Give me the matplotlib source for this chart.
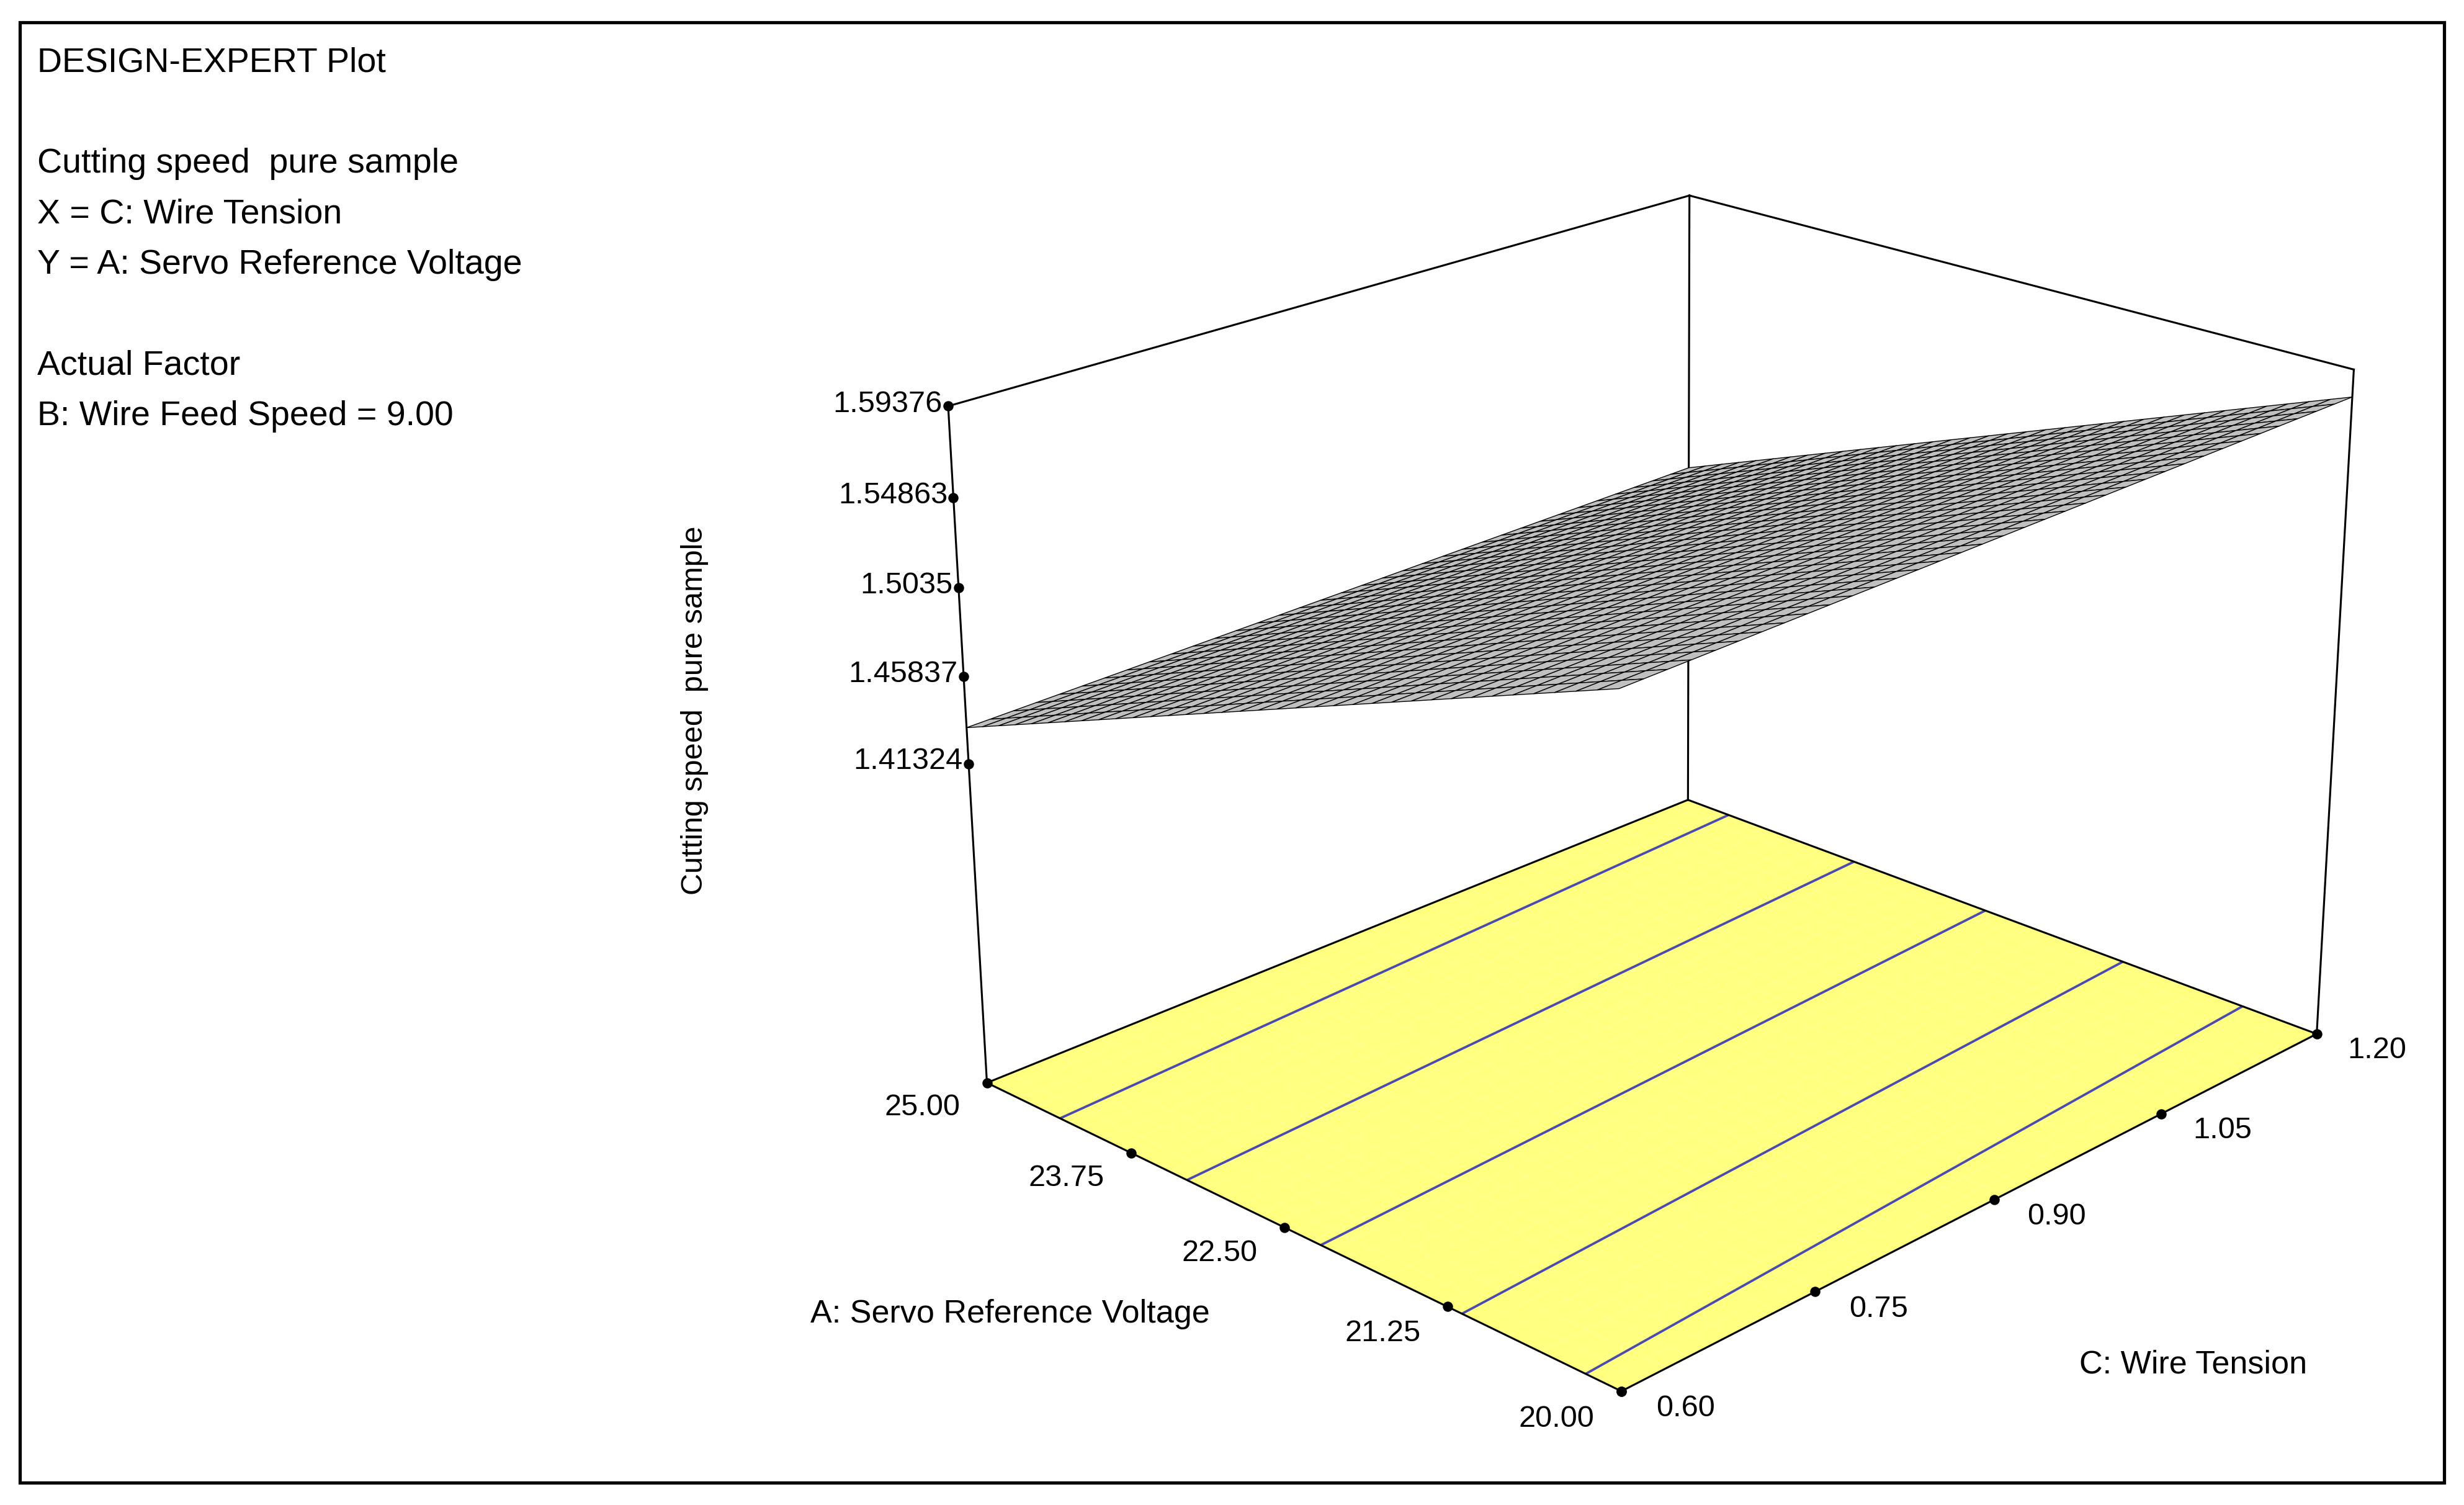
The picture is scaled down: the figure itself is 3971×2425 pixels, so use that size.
import numpy as np
import matplotlib.pyplot as plt
from matplotlib.patches import Rectangle

plt.rcParams['font.family'] = ['Liberation Sans', 'DejaVu Sans']

# factors and response
a_ticks = [20.00, 21.25, 22.50, 23.75, 25.00]   # A: Servo Reference Voltage
c_ticks = [0.60, 0.75, 0.90, 1.05, 1.20]        # C: Wire Tension
z_ticks = [1.41324, 1.45837, 1.5035, 1.54863, 1.59376]
z_floor = 1.243
# response
z_a20_c06, z_a25_c06 = 1.572, 1.432
z_c_gain = 0.008
contour_levels = [1.45, 1.48, 1.51, 1.54, 1.565]

A = np.linspace(20, 25, 36)
C = np.linspace(0.6, 1.2, 36)
CC, AA = np.meshgrid(C, A)
Z = z_a20_c06 + (AA - 20) / 5 * (z_a25_c06 - z_a20_c06) + (CC - 0.6) / 0.6 * z_c_gain

fig = plt.figure(figsize=(15.884, 9.7), dpi=250)
fig.add_artist(Rectangle((0.008, 0.015), 0.984, 0.97, transform=fig.transFigure,
                         fill=False, lw=1.5, color='black'))
ax = fig.add_axes([0.265, 0.0, 0.8, 1.0], projection='3d')
ax.computed_zorder = False
ax.set_proj_type('persp', focal_length=0.6)
ax.view_init(elev=22, azim=-136)
ax.set_axis_off()
ax.set_xlim(0.6, 1.2)
ax.set_ylim(20, 25)
ax.set_zlim(z_floor, z_ticks[-1])
ax.set_box_aspect((1.2, 1.05, 0.84))

lc = 'black'
lw = 0.9
x0, x1, y0, y1, zt = 0.6, 1.2, 20, 25, z_ticks[-1]
# floor
ax.plot_surface(CC, AA, np.full_like(Z, z_floor), color='#ffff80', shade=False,
                linewidth=0, zorder=0)
ax.contour(CC, AA, Z, levels=contour_levels, zdir='z', offset=z_floor,
           colors='#4a4ab0', linewidths=1.1, zorder=1)
for xs, ys in [((x0, x1), (y0, y0)), ((x1, x1), (y0, y1)), ((x1, x0), (y1, y1)), ((x0, x0), (y1, y0))]:
    ax.plot(xs, ys, [z_floor, z_floor], color=lc, lw=lw, zorder=2)
# verticals and top edges
for xx, yy in [(x0, y1), (x1, y1), (x1, y0)]:
    ax.plot([xx, xx], [yy, yy], [z_floor, zt], color=lc, lw=lw, zorder=2)
ax.plot([x0, x1], [y1, y1], [zt, zt], color=lc, lw=lw, zorder=2)
ax.plot([x1, x1], [y1, y0], [zt, zt], color=lc, lw=lw, zorder=2)

# surface
ax.plot_surface(CC, AA, Z, color='#c0c0c0', edgecolor='black', linewidth=0.4,
                shade=False, zorder=5)

# ticks
ax.scatter([x0] * 5, a_ticks, [z_floor] * 5, color='black', s=14, depthshade=False, zorder=6)
ax.scatter(c_ticks, [y0] * 5, [z_floor] * 5, color='black', s=14, depthshade=False, zorder=6)
ax.scatter([x0] * 5, [y1] * 5, z_ticks, color='black', s=14, depthshade=False, zorder=6)
for a in a_ticks:
    ax.text(x0 - 0.02, a, z_floor, f'{a:.2f}', ha='right', va='top', fontsize=14)
for c in c_ticks:
    ax.text(c + 0.01, y0 - 0.15, z_floor, f'{c:.2f}', ha='left', va='top', fontsize=14)
for z in z_ticks:
    ax.text(x0, y1 + 0.05, z, f'{z:g}', ha='right', va='center', fontsize=14)

fig.text(0.41, 0.127, 'A: Servo Reference Voltage', ha='center', va='center', fontsize=15)
fig.text(0.89, 0.093, 'C: Wire Tension', ha='center', va='center', fontsize=15)
fig.text(0.282, 0.528, 'Cutting speed  pure sample', rotation=90, ha='center',
         va='center', fontsize=14)

info = ['DESIGN-EXPERT Plot', '', 'Cutting speed  pure sample', 'X = C: Wire Tension',
        'Y = A: Servo Reference Voltage', '', 'Actual Factor', 'B: Wire Feed Speed = 9.00']
for i, s in enumerate(info):
    fig.text(0.015, 0.958 - i * 0.0335, s, fontsize=16, va='center', ha='left')

fig.savefig('out.png', dpi=250)
